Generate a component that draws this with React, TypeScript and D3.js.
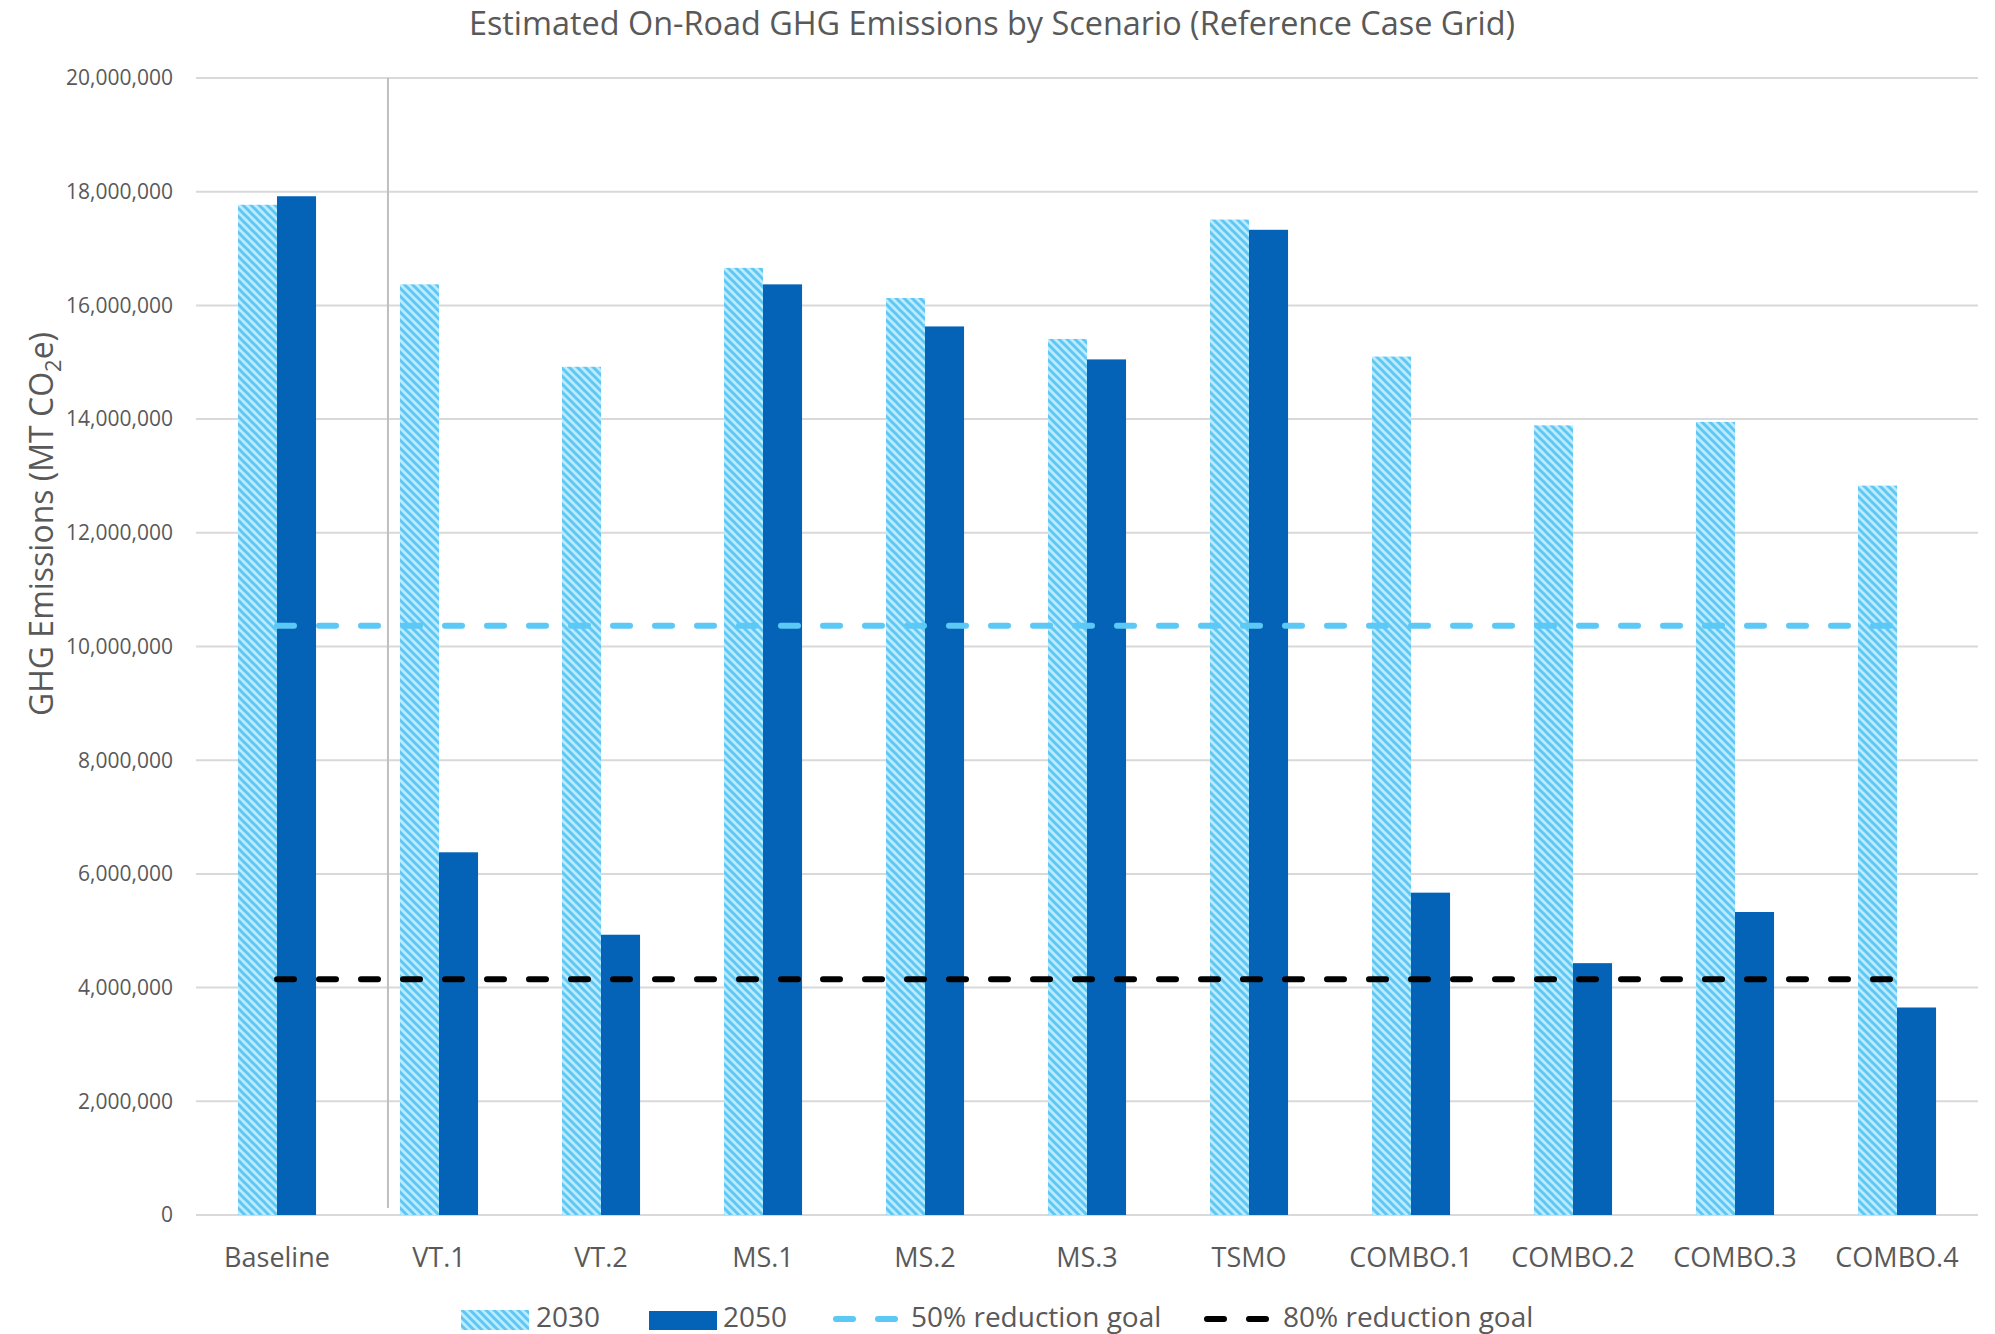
import React from "react";
import * as d3 from "d3";

const categories = ["Baseline", "VT.1", "VT.2", "MS.1", "MS.2", "MS.3", "TSMO", "COMBO.1", "COMBO.2", "COMBO.3", "COMBO.4"];
const series = ["2030", "2050"];
const values2030 = [17770000, 16370000, 14920000, 16660000, 16130000, 15410000, 17510000, 15100000, 13890000, 13950000, 12830000];
const values2050 = [17920000, 6380000, 4930000, 16370000, 15630000, 15050000, 17330000, 5670000, 4430000, 5330000, 3650000];
const goal50 = 10366000;
const goal80 = 4146000;
const yTicks = [0, 2000000, 4000000, 6000000, 8000000, 10000000, 12000000, 14000000, 16000000, 18000000, 20000000];
const title = "Estimated On-Road GHG Emissions by Scenario (Reference Case Grid)";

const W = 1995;
const H = 1334;
const FONT = "'Open Sans', 'Segoe UI', sans-serif";
const TEXT = "#595959";
const C2050 = "#0563B7";
const HATCH_DARK = "#5BC8F5";
const HATCH_LIGHT = "#C3EAFB";
const GOAL50 = "#5BC8F5";
const GOAL80 = "#000000";

export default function App() {
  const x = d3.scaleBand<string>().domain(categories).range([196, 1978]).paddingInner(0).paddingOuter(0);
  const y = d3.scaleLinear().domain([0, 20000000]).range([1215, 78]);
  const groupW = x.step() * 0.482;
  const x1 = d3.scaleBand<string>().domain(series).range([0, groupW]).padding(0);
  const fmt = d3.format(",");
  const center = (c: string) => (x(c) as number) + x.bandwidth() / 2;
  const data = [values2030, values2050];
  const sepX = center("VT.1") - x.step() * 0.315;
  const lineX0 = center(categories[0]);
  const lineX1 = center(categories[categories.length - 1]);

  return (
    <svg width={W} height={H} style={{ position: "absolute", left: 0, top: 0, display: "block", background: "#fff" }} fontFamily={FONT}>
      <defs>
        <pattern id="hatch" patternUnits="userSpaceOnUse" width={8} height={8}>
          <rect width={8} height={8} fill={HATCH_LIGHT} />
          <path d="M-2,6 L2,10 M0,0 L8,8 M6,-2 L10,2" stroke={HATCH_DARK} strokeWidth={3} />
        </pattern>
      </defs>
      <rect x={0} y={0} width={W} height={H} fill="#fff" />
      <text x={992} y={35} textAnchor="middle" fontSize={32.4} fill={TEXT}>{title}</text>

      {/* gridlines */}
      {yTicks.map((t) => (
        <line key={t} x1={196} x2={1978} y1={y(t)} y2={y(t)} stroke="#D9D9D9" strokeWidth={2} />
      ))}
      {yTicks.map((t) => (
        <text key={"l" + t} x={173} y={y(t)} dy="0.35em" textAnchor="end" fontSize={21} fill={TEXT}>{fmt(t)}</text>
      ))}
      <line x1={sepX} x2={sepX} y1={y(20000000)} y2={1208} stroke="#BFBFBF" strokeWidth={2} />

      {/* bars */}
      {categories.map((c, i) => (
        <g key={c} transform={`translate(${center(c) - groupW / 2},0)`}>
          {series.map((s, si) => (
            <rect
              key={s}
              x={x1(s) as number}
              y={y(data[si][i])}
              width={x1.bandwidth()}
              height={y(0) - y(data[si][i])}
              fill={si === 0 ? "url(#hatch)" : C2050}
            />
          ))}
        </g>
      ))}

      {/* goals */}
      <line x1={lineX0} x2={lineX1} y1={y(goal50)} y2={y(goal50)} stroke={GOAL50} strokeWidth={6} strokeDasharray="17 25" strokeLinecap="round" />
      <line x1={lineX0} x2={lineX1} y1={y(goal80)} y2={y(goal80)} stroke={GOAL80} strokeWidth={6} strokeDasharray="17 25" strokeLinecap="round" />

      {/* x labels */}
      {categories.map((c) => (
        <text key={"x" + c} x={center(c)} y={1267} textAnchor="middle" fontSize={27} fill={TEXT}>{c}</text>
      ))}

      {/* y title */}
      <text transform="translate(53,524) rotate(-90)" textAnchor="middle" fontSize={32} fill={TEXT}>
        GHG Emissions (MT CO<tspan fontSize={22} dy={8}>2</tspan><tspan dy={-8}>e)</tspan>
      </text>

      {/* legend */}
      <rect x={461} y={1310} width={68} height={20} fill="url(#hatch)" />
      <text x={536} y={1327} fontSize={28} fill={TEXT}>2030</text>
      <rect x={649} y={1311} width={68} height={19} fill={C2050} />
      <text x={723} y={1327} fontSize={28} fill={TEXT}>2050</text>
      <line x1={836} x2={897} y1={1319} y2={1319} stroke={GOAL50} strokeWidth={6} strokeDasharray="17 25" strokeLinecap="round" />
      <text x={911} y={1327} fontSize={28} fill={TEXT}>50% reduction goal</text>
      <line x1={1207} x2={1268} y1={1319} y2={1319} stroke={GOAL80} strokeWidth={6} strokeDasharray="17 25" strokeLinecap="round" />
      <text x={1283} y={1327} fontSize={28} fill={TEXT}>80% reduction goal</text>
    </svg>
  );
}
